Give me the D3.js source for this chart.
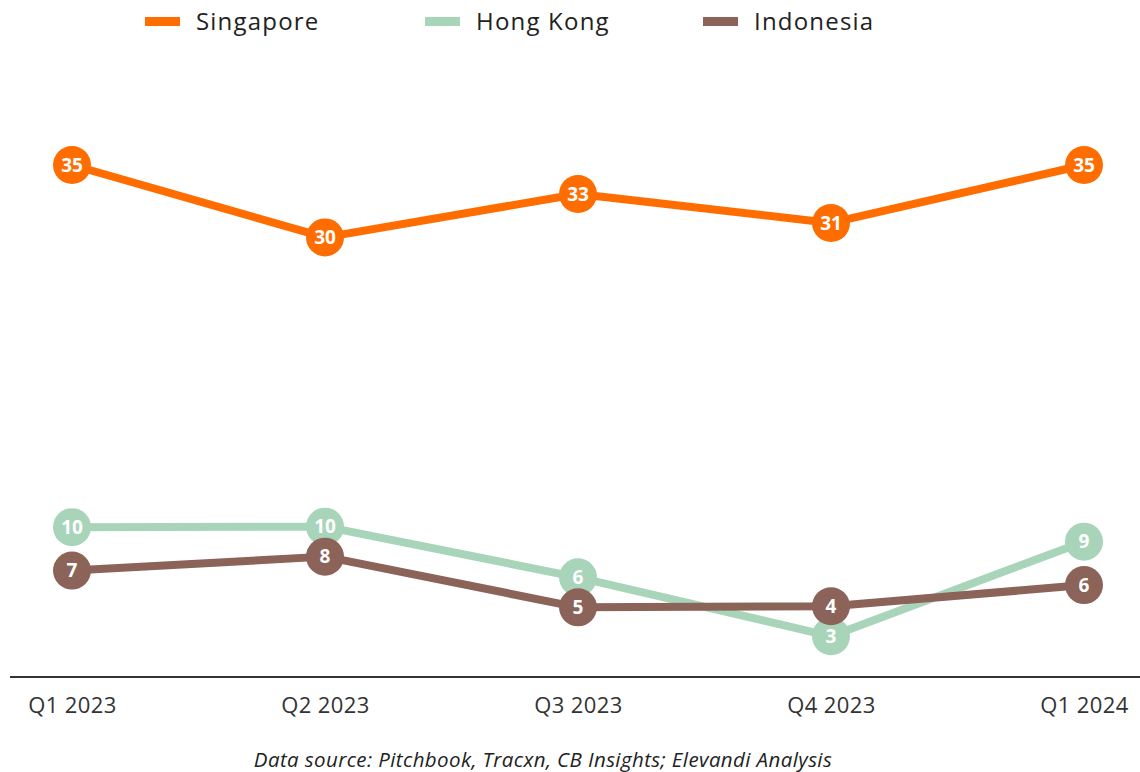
<!DOCTYPE html>
<html>
<head>
<meta charset="utf-8">
<script src="https://cdn.jsdelivr.net/npm/d3@7"></script>
<style>
  body { margin: 0; background: #fff; }
  text { font-family: "Open Sans", Lato, sans-serif; }
</style>
</head>
<body>
<div id="chart"></div>
<script>
  var quarters = ["Q1 2023", "Q2 2023", "Q3 2023", "Q4 2023", "Q1 2024"];
  var singapore = [35, 30, 33, 31, 35];
  var hongKong = [10, 10, 6, 3, 9];
  var indonesia = [7, 8, 5, 4, 6];
  var seriesNames = ["Singapore", "Hong Kong", "Indonesia"];
  var seriesColors = ["#ff6d00", "#a8d5ba", "#8b6358"];

  var width = 1140;
  var height = 772;

  var svg = d3.select("#chart")
    .append("svg")
    .attr("width", width)
    .attr("height", height);

  var x = d3.scalePoint()
    .domain(quarters)
    .range([72, 1084]);

  var y = d3.scaleLinear()
    .domain([0, 35])
    .range([672, 165]);

  // pixel y of each point, with close markers pushed apart so labels stay readable
  var minGap = 30;
  var yHK = hongKong.map(function (d) { return y(d); });
  var yID = indonesia.map(function (d) { return y(d); });
  yHK.forEach(function (v, i) {
    var gap = Math.abs(yHK[i] - yID[i]);
    if (gap < minGap) {
      var push = (minGap - gap) / 2;
      if (yHK[i] < yID[i]) { yHK[i] -= push; yID[i] += push; }
      else { yHK[i] += push; yID[i] -= push; }
    }
  });
  var ySG = singapore.map(function (d) { return y(d); });

  // legend
  var legendX = [145, 425, 703];
  seriesNames.forEach(function (name, i) {
    svg.append("rect")
      .attr("x", legendX[i])
      .attr("y", 17)
      .attr("width", 35)
      .attr("height", 9)
      .attr("fill", seriesColors[i]);
    svg.append("text")
      .attr("x", legendX[i] + 51)
      .attr("y", 30)
      .style("font-size", "24px")
      .style("letter-spacing", "1.2px")
      .style("fill", "#222")
      .text(name);
  });

  // baseline axis
  var axis = svg.append("g")
    .attr("transform", "translate(0,677)")
    .call(d3.axisBottom(x).tickSize(0).tickPadding(20));
  axis.select(".domain").remove();
  axis.append("line")
    .attr("x1", 10)
    .attr("x2", 1140)
    .attr("stroke", "#333")
    .attr("stroke-width", 2);
  axis.selectAll(".tick text")
    .style("font-family", "\"Open Sans\", Lato, sans-serif")
    .style("font-size", "22px")
    .style("letter-spacing", "0.4px")
    .style("fill", "#333");

  var line = d3.line()
    .x(function (d, i) { return x(quarters[i]); })
    .y(function (d) { return d; });

  function drawSeries(ys, color) {
    svg.append("path")
      .datum(ys)
      .attr("d", line)
      .attr("fill", "none")
      .attr("stroke", color)
      .attr("stroke-width", 8)
      .attr("stroke-linejoin", "round");
  }

  function drawMarkers(values, ys, color) {
    var g = svg.append("g");
    g.selectAll("circle")
      .data(values)
      .join("circle")
      .attr("cx", function (d, i) { return x(quarters[i]); })
      .attr("cy", function (d, i) { return ys[i]; })
      .attr("r", 19)
      .attr("fill", color);
    g.selectAll("text")
      .data(values)
      .join("text")
      .attr("x", function (d, i) { return x(quarters[i]); })
      .attr("y", function (d, i) { return ys[i]; })
      .attr("dy", "0.36em")
      .attr("text-anchor", "middle")
      .style("font-size", "19px")
      .style("font-weight", "bold")
      .style("fill", "#fff")
      .text(function (d) { return d; });
  }

  drawSeries(yHK, seriesColors[1]);
  drawMarkers(hongKong, yHK, seriesColors[1]);
  drawSeries(yID, seriesColors[2]);
  drawMarkers(indonesia, yID, seriesColors[2]);
  drawSeries(ySG, seriesColors[0]);
  drawMarkers(singapore, ySG, seriesColors[0]);

  // source note
  svg.append("text")
    .attr("x", 543)
    .attr("y", 767)
    .attr("text-anchor", "middle")
    .style("font-size", "20.5px")
    .style("letter-spacing", "0.4px")
    .style("font-style", "italic")
    .style("fill", "#222")
    .text("Data source: Pitchbook, Tracxn, CB Insights; Elevandi Analysis");
</script>
</body>
</html>
